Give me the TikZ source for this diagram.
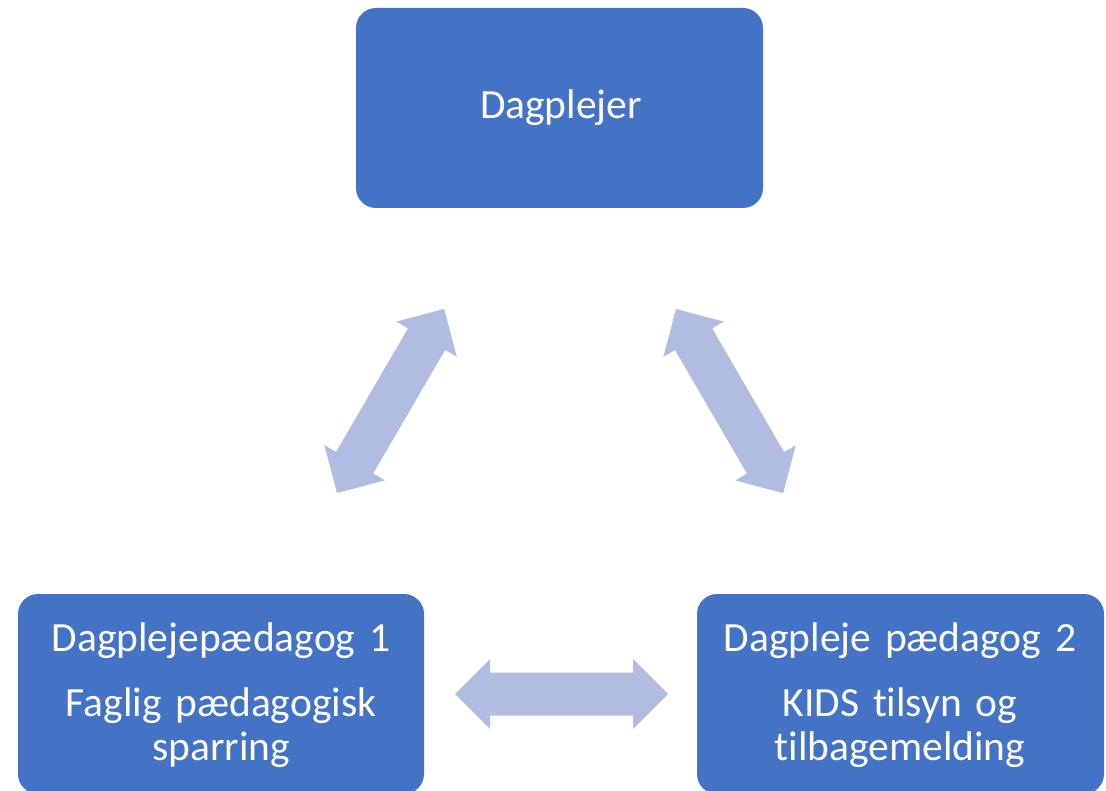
\documentclass[tikz,border=0pt]{standalone}
\usepackage{fontspec}
\setmainfont{Carlito}[Ligatures=NoCommon]
\definecolor{boxblue}{HTML}{4472C4}
\definecolor{arrowblue}{HTML}{B0BDE0}
\tikzset{
  box/.style={draw=none, fill=boxblue, rounded corners=20pt},
  boxtext/.style={text=white, font=\fontsize{41.5}{44}\selectfont, align=center, text width=400pt, inner sep=0pt, anchor=base},
  dblarrow/.pic={
    \fill[arrowblue] (0,0) -- (35,35) -- (35,21.5) -- (178,21.5) -- (178,35)
      -- (213,0) -- (178,-35) -- (178,-21.5) -- (35,-21.5) -- (35,-35) -- cycle;
  }
}
\begin{document}
\begin{tikzpicture}[x=1pt,y=-1pt]
\useasboundingbox (0,0) rectangle (1106,791);
\begin{scope}
\clip (0,0) rectangle (1106,791);
% boxes
\fill[box] (356,8) rectangle (763,208);
\fill[box] (18,594) rectangle (424,794);
\fill[box] (697,594) rectangle (1104,794);
% texts
\node[boxtext] (top) at (561,119) {Dagplejer};
\node[boxtext] (left) at (221,651) {Dagplejepædagog 1\\[21pt]Faglig pædagogisk\\sparring};
\node[boxtext] (right) at (900,651) {Dagpleje pædagog 2\\[21pt]KIDS tilsyn og\\tilbagemelding};
% arrows
\pic[rotate=59.8] (arrowL) at (337,493) {dblarrow};
\pic[rotate=-59.8] (arrowR) at (676,309) {dblarrow};
\pic (arrowH) at (455,694) {dblarrow};
\end{scope}
\end{tikzpicture}
\end{document}
